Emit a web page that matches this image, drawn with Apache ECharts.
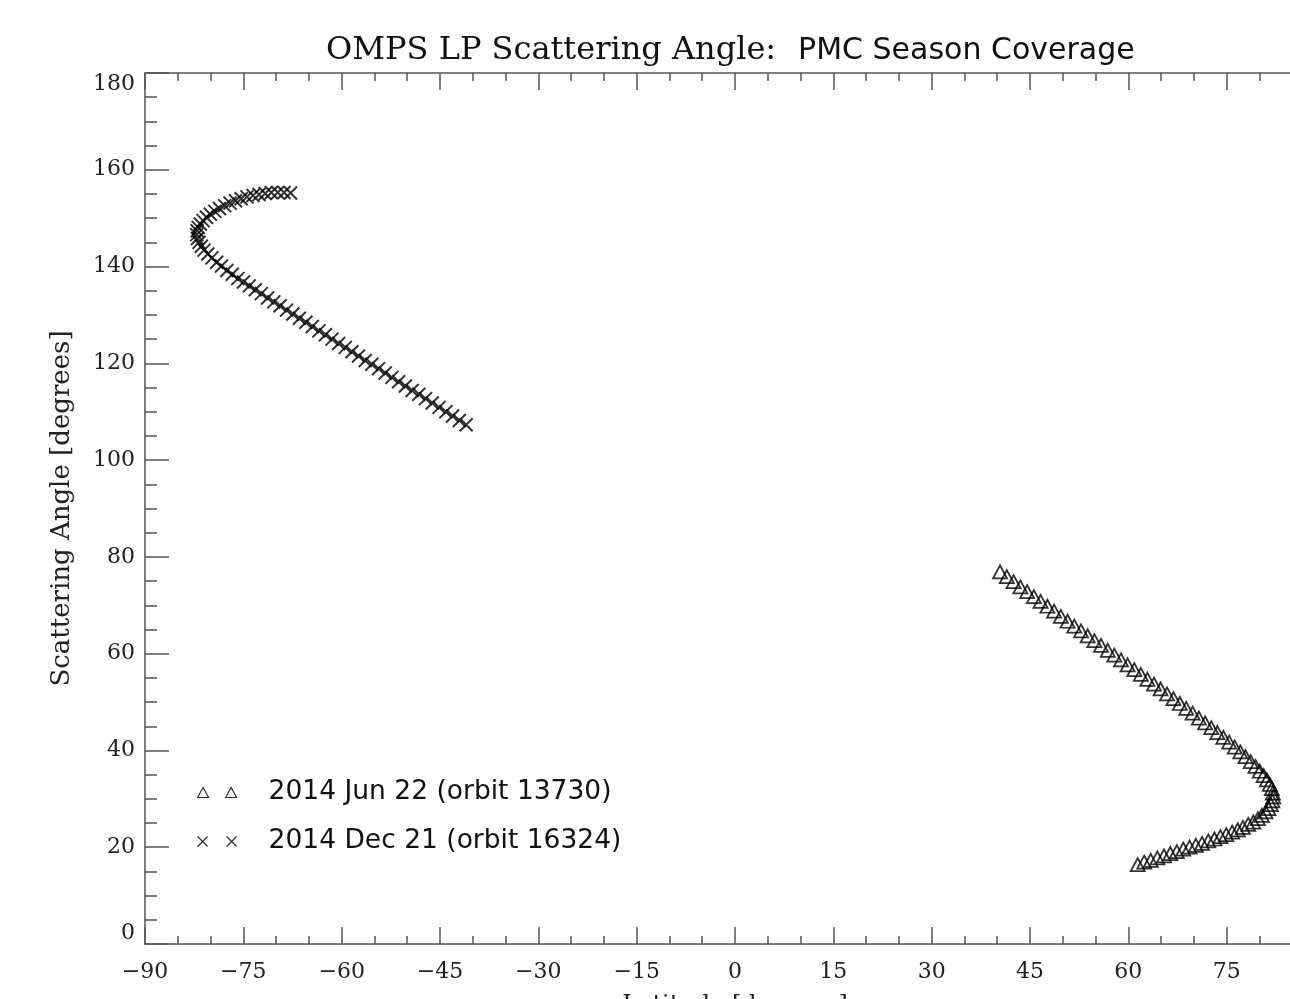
<!DOCTYPE html>
<html>
<head>
<meta charset="utf-8">
<script src="https://cdn.jsdelivr.net/npm/echarts@6/dist/echarts.min.js"></script>
<style>html,body{margin:0;padding:0;background:#fff;}#c{width:1290px;height:999px;}</style>
</head>
<body>
<div id="c"></div>
<script>
const titleSerif = 'OMPS LP Scattering Angle:';
const titleSans = 'PMC Season Coverage';
const xName = 'Latitude [degrees]';
const yName = 'Scattering Angle [degrees]';
const seriesNames = ['2014 Jun 22 (orbit 13730)', '2014 Dec 21 (orbit 16324)'];

const junLat = [40.43,41.46,42.49,43.53,44.56,45.59,46.61,47.65,48.67,49.70,
  50.72,51.75,52.78,53.79,54.82,55.83,56.86,57.86,58.88,59.89,
  60.90,61.90,62.91,63.91,64.91,65.90,66.88,67.86,68.83,69.80,
  70.76,71.71,72.65,73.58,74.49,75.38,76.23,77.08,77.87,78.67,
  79.39,80.05,80.64,81.14,81.57,81.89,82.05,82.10,81.98,81.76,
  81.38,80.93,80.37,79.77,79.06,78.29,77.48,76.70,75.84,74.94,
  74.05,73.14,72.20,71.25,70.30,69.33,68.38,67.40,66.40,65.44,
  64.43,63.42,62.42,61.43];
const junAngle = [76.9,75.9,74.9,73.8,72.8,71.8,70.8,69.8,68.8,67.7,
  66.7,65.7,64.7,63.7,62.7,61.7,60.7,59.7,58.7,57.7,
  56.7,55.7,54.7,53.7,52.7,51.7,50.7,49.7,48.7,47.7,
  46.7,45.7,44.7,43.7,42.7,41.7,40.7,39.7,38.7,37.7,
  36.7,35.7,34.8,33.9,33.0,32.1,31.2,30.4,29.6,28.8,
  28.0,27.3,26.6,25.9,25.2,24.7,24.1,23.6,23.1,22.6,
  22.2,21.7,21.3,20.8,20.4,20.0,19.6,19.1,18.7,18.2,
  17.8,17.3,16.9,16.4];

const decLat = [-41.01,-42.05,-43.08,-44.11,-45.14,-46.18,-47.20,-48.23,-49.25,-50.28,
  -51.31,-52.33,-53.35,-54.37,-55.40,-56.41,-57.43,-58.44,-59.45,-60.46,
  -61.47,-62.47,-63.47,-64.47,-65.46,-66.45,-67.44,-68.41,-69.39,-70.35,
  -71.30,-72.25,-73.18,-74.09,-74.98,-75.85,-76.69,-77.51,-78.33,-79.07,
  -79.80,-80.42,-81.00,-81.41,-81.76,-82.00,-82.10,-82.05,-81.89,-81.57,
  -81.14,-80.62,-80.03,-79.35,-78.65,-77.85,-77.03,-76.20,-75.33,-74.45,
  -73.53,-72.61,-71.67,-70.73,-69.75,-68.79,-67.80];
const decAngle = [107.3,108.2,109.1,110.0,110.9,111.8,112.7,113.6,114.4,115.3,
  116.2,117.1,118.0,118.9,119.8,120.6,121.5,122.4,123.3,124.1,
  125.0,125.9,126.7,127.6,128.5,129.3,130.2,131.0,131.9,132.7,
  133.5,134.4,135.2,136.0,136.8,137.5,138.4,139.2,140.1,140.9,
  141.8,142.6,143.4,144.2,145.0,145.8,146.6,147.4,148.1,148.8,
  149.5,150.2,150.8,151.4,152.0,152.6,153.1,153.6,154.0,154.4,
  154.7,154.9,155.1,155.3,155.3,155.3,155.2];

const xRange = [-90, 90], xStep = 15, xMinorSplit = 3;
const yRange = [0, 180], yStep = 20, yMinorSplit = 4;

const serif = 'DejaVu Serif';
const sans = 'DejaVu Sans';
const axisColor = '#555';
const minusFmt = v => (v < 0 ? '\u2212' + Math.abs(v) : String(v));

const chart = echarts.init(document.getElementById('c'), null, {renderer: 'canvas'});

const crossPath = 'path://M0,0L10,10M10,0L0,10';
const legendTri = 'path://M0,10L5.5,0L11,10ZM28,10L33.5,0L39,10Z';
const legendCross = 'path://M0,0L10,10M10,0L0,10M29,0L39,10M39,0L29,10';

function xAxisCfg(pos, show) {
  return {
    type: 'value', position: pos, min: xRange[0], max: xRange[1], interval: xStep,
    axisLine: {show: true, onZero: false, lineStyle: {color: axisColor, width: 1.5}},
    axisTick: {show: true, inside: true, length: 17, lineStyle: {color: axisColor, width: 1.5}},
    minorTick: {show: true, splitNumber: xMinorSplit, length: 8, lineStyle: {color: axisColor, width: 1.5}},
    splitLine: {show: false},
    axisLabel: {show: show, margin: 17, fontFamily: serif, fontSize: 22, color: '#222', formatter: minusFmt},
    name: show ? xName : '', nameLocation: 'middle', nameGap: 50,
    nameTextStyle: {fontFamily: serif, fontSize: 24, color: '#222'}
  };
}
function yAxisCfg(pos, show) {
  return {
    type: 'value', position: pos, min: yRange[0], max: yRange[1], interval: yStep,
    axisLine: {show: true, onZero: false, lineStyle: {color: axisColor, width: 1.5}},
    axisTick: {show: true, inside: true, length: 24, lineStyle: {color: axisColor, width: 1.5}},
    minorTick: {show: true, splitNumber: yMinorSplit, length: 12, lineStyle: {color: axisColor, width: 1.5}},
    splitLine: {show: false},
    axisLabel: {show: show, margin: 10, fontFamily: serif, fontSize: 22, color: '#222',
      verticalAlignMaxLabel: 'top', verticalAlignMinLabel: 'bottom'},
    name: show ? yName : '', nameLocation: 'middle', nameGap: 70, nameRotate: 90,
    nameTextStyle: {fontFamily: serif, fontSize: 26, color: '#222'}
  };
}

function pairs(xs, ys) { return xs.map((x, i) => [x, ys[i]]); }

chart.setOption({
  animation: false,
  backgroundColor: '#fff',
  title: {
    text: '{a|' + titleSerif + '}{b|' + titleSans + '}',
    left: 321, top: 30,
    textStyle: {
      fontWeight: 'normal',
      rich: {
        a: {fontFamily: serif, fontSize: 32, fontWeight: 'normal', color: '#111', padding: [0, 22, 0, 0]},
        b: {fontFamily: sans, fontSize: 30, fontWeight: 'normal', color: '#111'}
      }
    }
  },
  grid: {left: 145, top: 73, width: 1180, height: 871, containLabel: false, outerBoundsMode: 'none'},
  xAxis: [xAxisCfg('bottom', true), xAxisCfg('top', false)],
  yAxis: [yAxisCfg('left', true), yAxisCfg('right', false)],
  legend: {
    orient: 'vertical', left: 192, top: 773, itemGap: 20,
    itemWidth: 39, itemHeight: 10,
    itemStyle: {color: 'transparent', borderColor: '#000', borderWidth: 1.2},
    textStyle: {fontFamily: sans, fontSize: 26.5, color: '#111', lineHeight: 29, padding: [0, 0, 0, 27]},
    data: [
      {name: seriesNames[0], icon: legendTri},
      {name: seriesNames[1], icon: legendCross}
    ]
  },
  series: [
    {
      name: seriesNames[0], type: 'scatter', xAxisIndex: 0, yAxisIndex: 0,
      symbol: 'triangle', symbolSize: [14, 13],
      itemStyle: {color: 'transparent', borderColor: '#000', borderWidth: 1.8},
      data: pairs(junLat, junAngle)
    },
    {
      name: seriesNames[1], type: 'scatter', xAxisIndex: 0, yAxisIndex: 0,
      symbol: crossPath, symbolSize: 13,
      itemStyle: {color: 'transparent', borderColor: '#000', borderWidth: 2},
      data: pairs(decLat, decAngle)
    }
  ]
});
</script>
</body>
</html>
